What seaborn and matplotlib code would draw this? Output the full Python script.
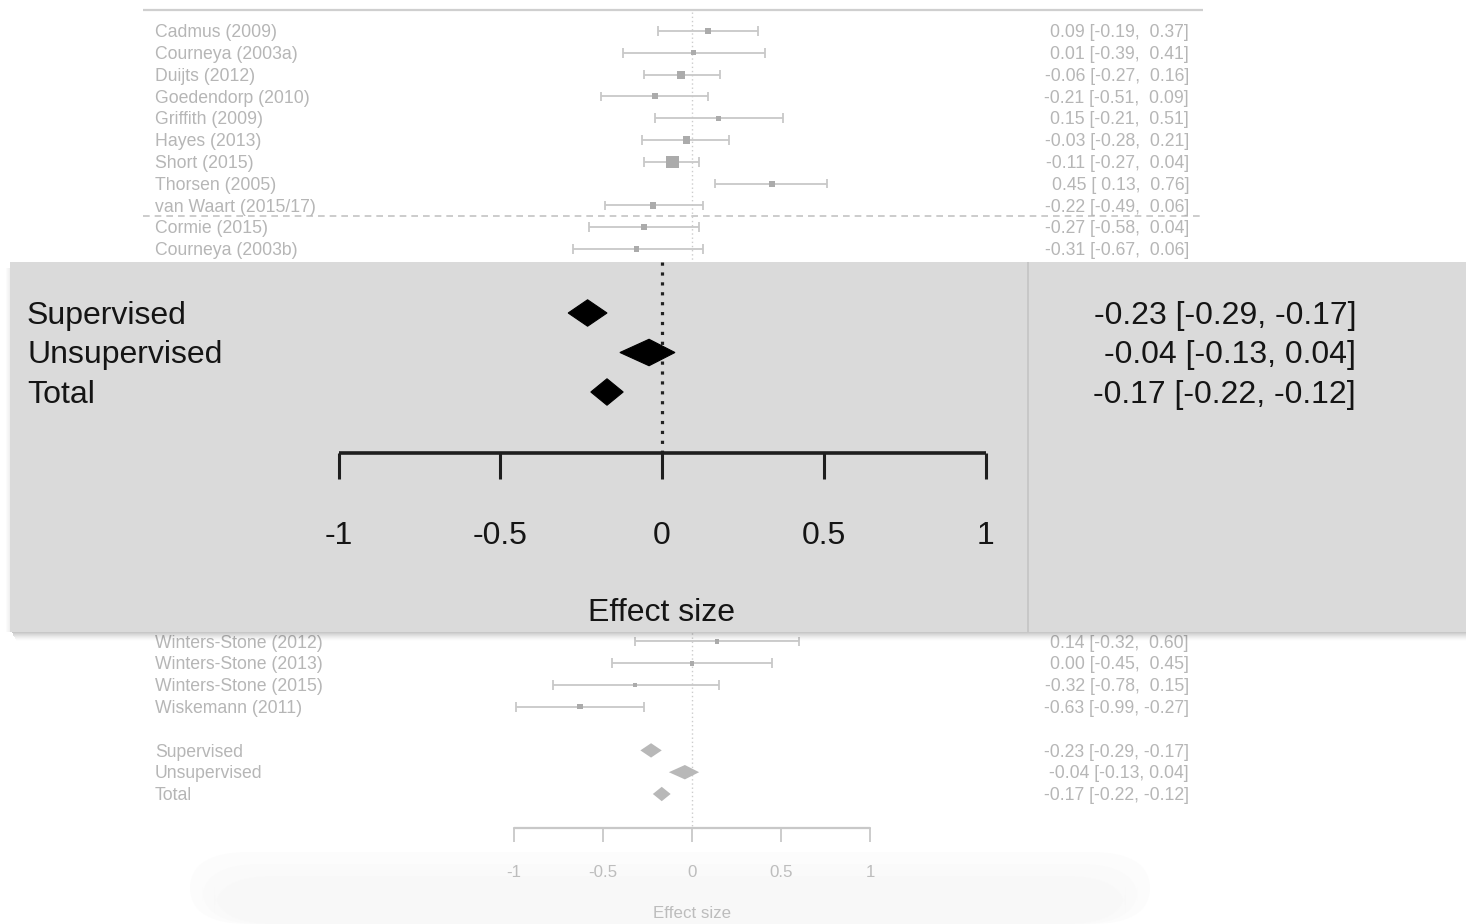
import numpy as np
import pandas as pd
import matplotlib
matplotlib.use("Agg")
import matplotlib.pyplot as plt
import seaborn as sns
from matplotlib.patches import Polygon, Rectangle, FancyBboxPatch

# ---------------- data ----------------
studies_top = ["Cadmus (2009)", "Courneya (2003a)", "Duijts (2012)", "Goedendorp (2010)",
               "Griffith (2009)", "Hayes (2013)", "Short (2015)", "Thorsen (2005)",
               "van Waart (2015/17)", "Cormie (2015)", "Courneya (2003b)"]
est_top = [0.09, 0.01, -0.06, -0.21, 0.15, -0.03, -0.11, 0.45, -0.22, -0.27, -0.31]
lo_top = [-0.19, -0.39, -0.27, -0.51, -0.21, -0.28, -0.27, 0.13, -0.49, -0.58, -0.67]
hi_top = [0.37, 0.41, 0.16, 0.09, 0.51, 0.21, 0.04, 0.76, 0.06, 0.04, 0.06]

studies_bottom = ["Winters-Stone (2012)", "Winters-Stone (2013)", "Winters-Stone (2015)",
                  "Wiskemann (2011)"]
est_bottom = [0.14, 0.00, -0.32, -0.63]
lo_bottom = [-0.32, -0.45, -0.78, -0.99]
hi_bottom = [0.60, 0.45, 0.15, -0.27]

summary_labels = ["Supervised", "Unsupervised", "Total"]
summary_est = [-0.23, -0.04, -0.17]
summary_lo = [-0.29, -0.13, -0.22]
summary_hi = [-0.17, 0.04, -0.12]

tick_values = [-1, -0.5, 0, 0.5, 1]
tick_labels = ["-1", "-0.5", "0", "0.5", "1"]
x_label = "Effect size"

# ---------------- layout ----------------
W, H = 1466, 924
sns.set_style("white")
plt.rcParams["font.family"] = ["Liberation Sans", "DejaVu Sans"]

fig = plt.figure(figsize=(W / 100, H / 100), dpi=100)

# background (faded) forest plot, coordinates: effect size / row index
def bx(px):
    return (px - 692) / 178.0

def by(py):
    return (py - 31) / 21.8

ax = fig.add_axes([0, 0, 1, 1], zorder=0)
ax.set_xlim(bx(0), bx(W))
ax.set_ylim(by(H), by(0))
ax.axis("off")

n_hidden = 17
rows_top = list(range(len(studies_top)))
rows_bottom = [len(studies_top) + n_hidden + i for i in range(len(studies_bottom))]
rows_summary = [rows_bottom[-1] + 2 + i for i in range(len(summary_labels))]

df = pd.DataFrame({
    "study": studies_top + studies_bottom,
    "est": est_top + est_bottom,
    "lo": lo_top + lo_bottom,
    "hi": hi_top + hi_bottom,
    "row": rows_top + rows_bottom,
})
se = (df["hi"] - df["lo"]) / 3.92
wt = 1 / se ** 2
side = 3.4 + 5.4 * (wt - wt.min()) / (wt.max() - wt.min())
df["area"] = side ** 2

txt_c = "#b6b6b6"
line_c = "#c8c8c8"
mark_c = "#ababab"
fs_bg = 12.7

# top rule and group separator
ax.plot([bx(143), bx(1203)], [by(10), by(10)], color="#cfcfcf", lw=1.6, solid_capstyle="butt")
ax.plot([bx(143), bx(1203)], [8.5, 8.5], color="#c4c4c4", lw=1.2, ls=(0, (4, 3)))
# reference line
ax.plot([0, 0], [by(12), by(828)], color="#cccccc", lw=1.0, ls=(0, (1, 2)))

# confidence intervals
ax.hlines(df["row"], df["lo"], df["hi"], color=line_c, lw=1.3)
ax.vlines(df["lo"], df["row"] - 0.22, df["row"] + 0.22, color=line_c, lw=1.3)
ax.vlines(df["hi"], df["row"] - 0.22, df["row"] + 0.22, color=line_c, lw=1.3)
sns.scatterplot(data=df, x="est", y="row", size="area",
                sizes={a: a for a in df["area"]}, marker="s", color=mark_c,
                edgecolor="none", legend=False, ax=ax, zorder=3)

for s, e, l, h, r in zip(df["study"], df["est"], df["lo"], df["hi"], df["row"]):
    ax.text(bx(155), r + 0.08, s, ha="left", va="center", fontsize=fs_bg, color=txt_c)
    ax.text(bx(1189), r + 0.08, f"{e:.2f} [{l:5.2f}, {h:5.2f}]", ha="right", va="center",
            fontsize=fs_bg, color=txt_c)

for lab, e, l, h, r in zip(summary_labels, summary_est, summary_lo, summary_hi, rows_summary):
    ax.add_patch(Polygon([[l, r], [e, r - 0.33], [h, r], [e, r + 0.33]], closed=True,
                         facecolor="#b8b8b8", edgecolor="none", zorder=3))
    ax.text(bx(155), r + 0.08, lab, ha="left", va="center", fontsize=fs_bg, color=txt_c)
    ax.text(bx(1189), r + 0.08, f"{e:.2f} [{l:.2f}, {h:.2f}]", ha="right", va="center",
            fontsize=fs_bg, color=txt_c)

# background axis
ya = by(828)
ax.plot([tick_values[0], tick_values[-1]], [ya, ya], color="#c8c8c8", lw=1.6)
ax.vlines(tick_values, ya, by(842), color="#c8c8c8", lw=1.3)
for v, t in zip(tick_values, tick_labels):
    ax.text(v, by(873), t, ha="center", va="center", fontsize=fs_bg - 0.5, color="#bdbdbd")
ax.text(0, by(914), x_label, ha="center", va="center", fontsize=fs_bg - 0.5, color="#bdbdbd")

# very faint light blur at bottom
for k in range(3):
    ax.add_patch(FancyBboxPatch(((190 + k * 12) / W, 0), ((960 - k * 24) / W), (72 - k * 12) / H,
                                boxstyle="round,pad=0,rounding_size=0.04",
                                transform=fig.transFigure, facecolor="#f6f6f6",
                                edgecolor="none", alpha=0.3, zorder=0.5, clip_on=False))

# shadow under the inset
for k in range(9):
    fig.patches.append(Rectangle(((12 + k * 0.5) / W, 1 - (633 + k) / H), (W - 12) / W, 1 / H,
                                 transform=fig.transFigure, facecolor="black",
                                 alpha=0.22 * (1 - k / 9) ** 1.5, edgecolor="none", zorder=1))
for k in range(4):
    fig.patches.append(Rectangle(((9 - k) / W, 1 - 632 / H), 1 / W, (632 - 268) / H,
                                 transform=fig.transFigure, facecolor="black",
                                 alpha=0.06 * (1 - k / 4), edgecolor="none", zorder=1))

# ---------------- magnified inset ----------------
L, T, R, B = 10, 262, W, 632
ax2 = fig.add_axes([L / W, 1 - B / H, (R - L) / W, (B - T) / H], zorder=2)
ax2.set_facecolor("#dadada")

def ix(px):
    return (px - 662) / 323.5

def iy(py):
    return (py - 313) / 39.5

ax2.set_xlim(ix(L), ix(R))
ax2.set_ylim(iy(B), iy(T))
ax2.set_xticks([])
ax2.set_yticks([])
for sp in ax2.spines.values():
    sp.set_visible(False)

dark = "#151515"
fs_in = 23
ax2.axvline(ix(1028), color="#c4c4c4", lw=1.2)
ax2.plot([0, 0], [iy(T), iy(453)], color="#202020", lw=2.3, ls=(0, (1, 2.1)))

for i, (lab, e, l, h) in enumerate(zip(summary_labels, summary_est, summary_lo, summary_hi)):
    ax2.add_patch(Polygon([[l, i], [e, i - 0.335], [h, i], [e, i + 0.335]], closed=True,
                          facecolor="black", edgecolor="black", lw=0.8, zorder=3))
    ax2.text(ix(27), i + 0.27, lab, ha="left", va="baseline", fontsize=fs_in, color=dark)
    ax2.text(ix(1356), i + 0.27, f"{e:.2f} [{l:.2f}, {h:.2f}]", ha="right",
             va="baseline", fontsize=fs_in, color=dark)

yi = iy(453)
ax2.plot([tick_values[0], tick_values[-1]], [yi, yi], color="#1e1e1e", lw=2.6,
         solid_capstyle="butt")
ax2.vlines(tick_values, yi, iy(479), color="#1e1e1e", lw=2.2)
for v, t in zip(tick_values, tick_labels):
    ax2.text(v, iy(536), t, ha="center", va="center", fontsize=fs_in, color=dark)
ax2.text(0, iy(613), x_label, ha="center", va="center", fontsize=fs_in, color=dark)

fig.savefig("out.png", dpi=100)
